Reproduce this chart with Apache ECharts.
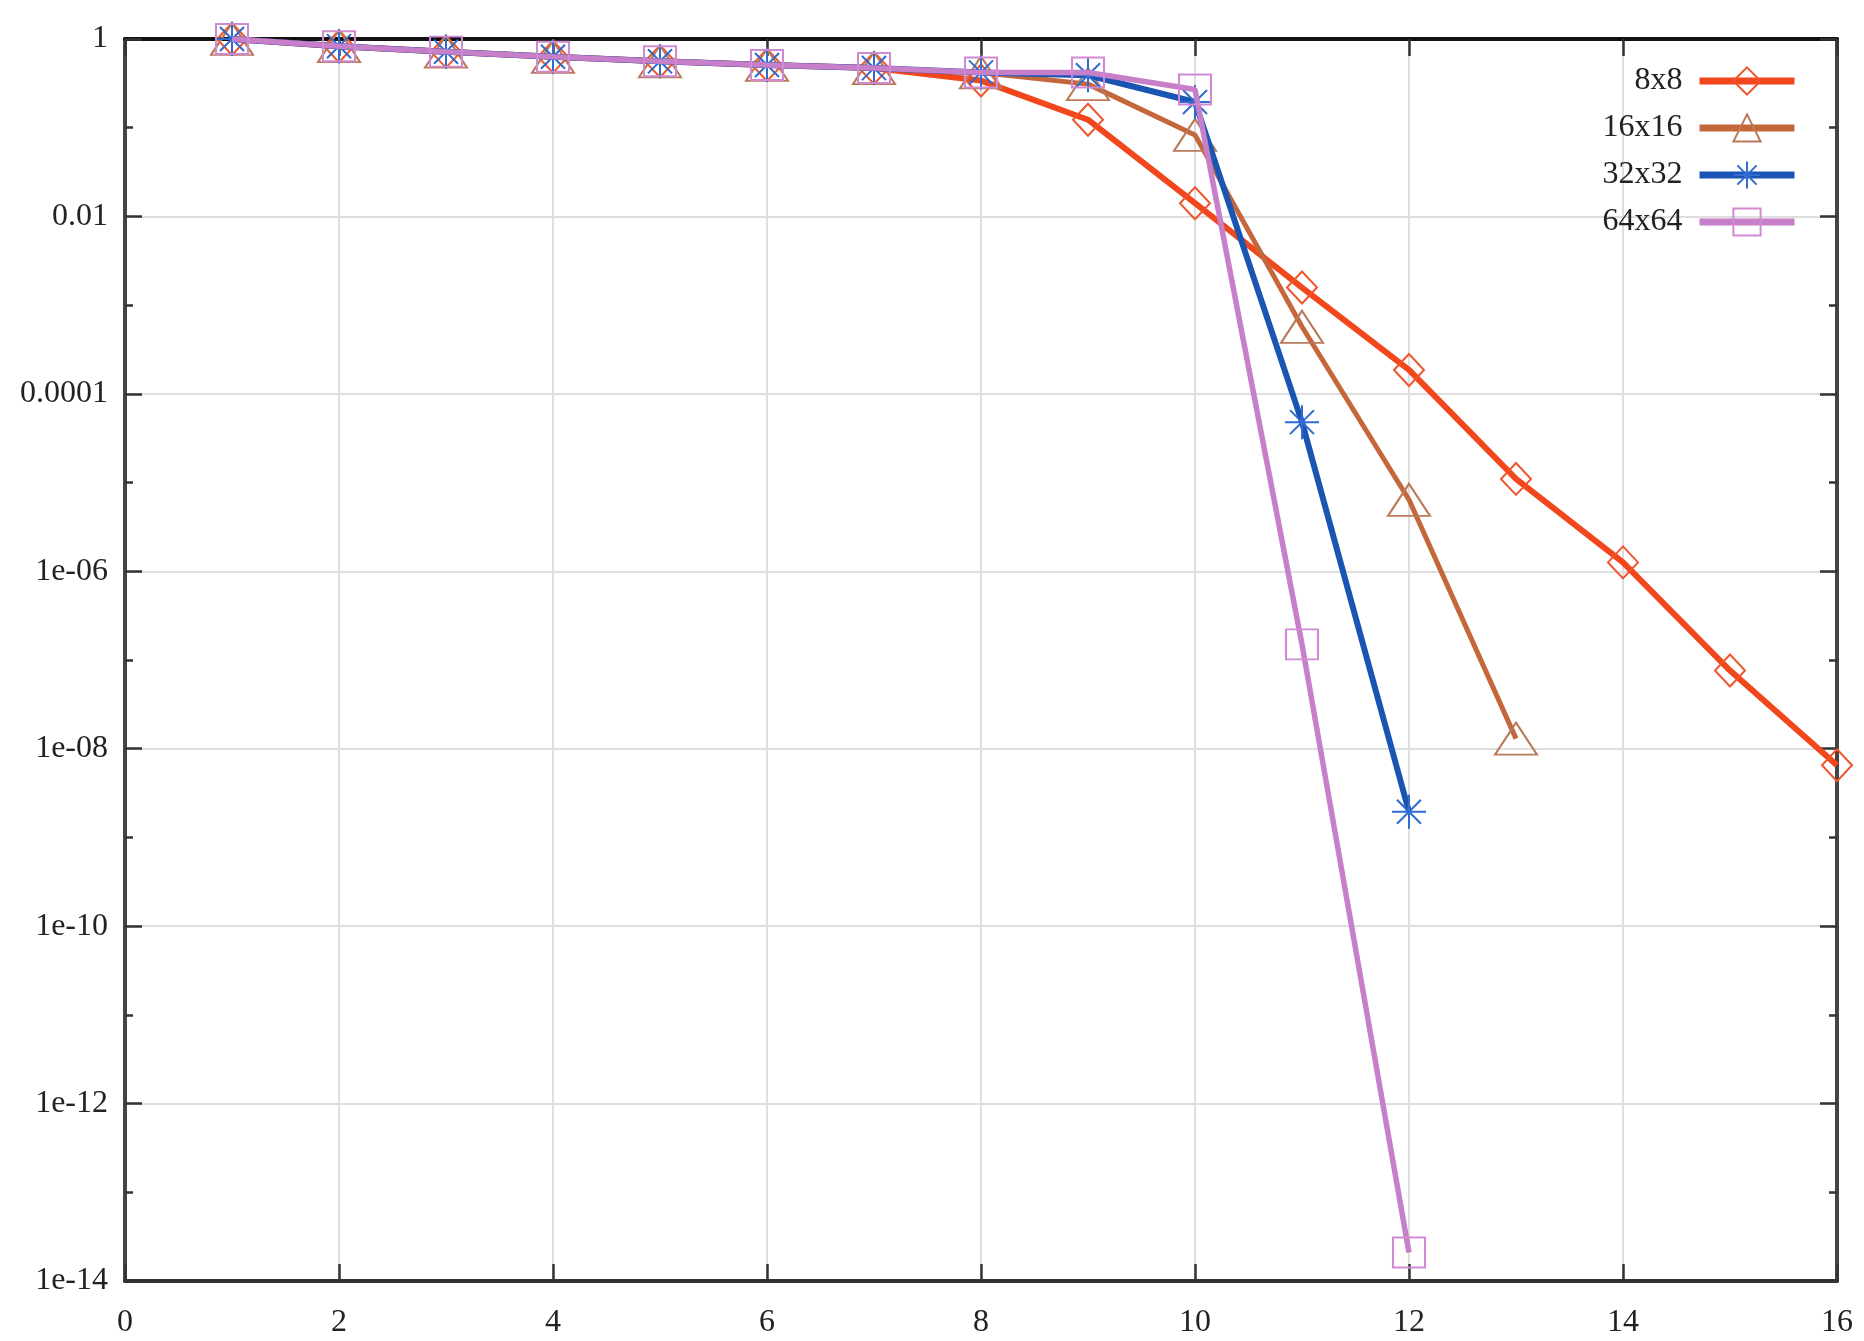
<!DOCTYPE html>
<html>
<head>
<meta charset="utf-8">
<script src="https://cdn.jsdelivr.net/npm/echarts@6/dist/echarts.min.js"></script>
<style>html,body{margin:0;padding:0;background:#fff}#c{width:1864px;height:1341px}</style>
</head>
<body>
<div id="c"></div>
<script>
const seriesNames = ['8x8', '16x16', '32x32', '64x64'];
const xValues = [1, 2, 3, 4, 5, 6, 7, 8, 9, 10, 11, 12, 13, 14, 15, 16];
const s8x8   = [1, 0.83, 0.72, 0.63, 0.56, 0.51, 0.47, 0.34, 0.123, 0.0141, 1.58e-3, 1.86e-4, 1.1e-5, 1.26e-6, 7.6e-8, 6.5e-9];
const s16x16 = [1, 0.83, 0.72, 0.63, 0.56, 0.51, 0.47, 0.42, 0.31, 0.083, 5.7e-4, 6.4e-6, 1.3e-8];
const s32x32 = [1, 0.83, 0.72, 0.63, 0.56, 0.51, 0.47, 0.42, 0.39, 0.195, 4.8e-5, 1.95e-9];
const s64x64 = [1, 0.83, 0.72, 0.63, 0.56, 0.51, 0.47, 0.42, 0.42, 0.27, 1.5e-7, 2.1e-14];
const xTicks = [0, 2, 4, 6, 8, 10, 12, 14, 16];
const yTickLabels = {'0': '1', '-2': '0.01', '-4': '0.0001', '-6': '1e-06', '-8': '1e-08', '-10': '1e-10', '-12': '1e-12', '-14': '1e-14'};

const FONT = 'Liberation Serif';
const pairs = arr => arr.map((v, i) => [xValues[i], v]);
const asterisk = 'path://M10 0L10 20M0 10L20 10M2.93 2.93L17.07 17.07M17.07 2.93L2.93 17.07';

const styles = [
  {line: '#f2461c', mark: '#f0542c', symbol: 'diamond', size: [30, 32], lw: 6},
  {line: '#c4673a', mark: '#b97a5c', symbol: 'triangle', size: [42, 32], lw: 5},
  {line: '#1b55b3', mark: '#2f6bd0', symbol: asterisk, size: [34, 34], lw: 6},
  {line: '#c77fc9', mark: '#d08ad2', symbol: 'rect', size: [32, 30], lw: 5.5}
];
const datasets = [s8x8, s16x16, s32x32, s64x64];

const series = seriesNames.map((name, k) => ({
  name: name,
  type: 'line',
  xAxisIndex: 0,
  yAxisIndex: 0,
  data: pairs(datasets[k]),
  symbol: styles[k].symbol,
  symbolSize: styles[k].size,
  showAllSymbol: true,
  clip: false,
  z: 2 + k,
  lineStyle: {color: styles[k].line, width: styles[k].lw},
  itemStyle: {color: 'rgba(0,0,0,0)', borderColor: styles[k].mark, borderWidth: 2},
  emphasis: {disabled: true}
}));

const tickLabel = v => {
  const e = Math.round(Math.log10(v));
  return yTickLabels[String(e)] !== undefined ? yTickLabels[String(e)] : '';
};

const yBase = {
  type: 'log', logBase: 10, min: 1e-14, max: 1
};

const option = {
  animation: false,
  backgroundColor: '#ffffff',
  grid: {left: 125, right: 27, top: 39, bottom: 60, containLabel: false},
  legend: {
    orient: 'vertical',
    right: 61,
    top: 60,
    align: 'right',
    itemWidth: 95,
    itemHeight: 34,
    itemGap: 15,
    data: seriesNames,
    lineStyle: {width: 7},
    textStyle: {fontFamily: FONT, fontSize: 32, color: '#222', padding: [0, 12, 0, 0]}
  },
  xAxis: [
    {
      type: 'value', position: 'bottom', min: xTicks[0], max: xTicks[xTicks.length - 1], interval: 2,
      axisLine: {show: true, lineStyle: {color: '#333', width: 4}},
      axisTick: {show: true, inside: true, length: 17, lineStyle: {color: '#333', width: 2.5}},
      axisLabel: {show: true, margin: 26, fontFamily: FONT, fontSize: 32, color: '#222'},
      splitLine: {show: true, lineStyle: {color: '#dedede', width: 2}}
    },
    {
      type: 'value', position: 'top', min: xTicks[0], max: xTicks[xTicks.length - 1], interval: 2,
      axisLine: {show: true, lineStyle: {color: '#111', width: 4}},
      axisTick: {show: true, inside: true, length: 17, lineStyle: {color: '#333', width: 2.5}},
      axisLabel: {show: false},
      splitLine: {show: false}
    }
  ],
  yAxis: [
    Object.assign({}, yBase, {
      position: 'left', interval: 2,
      axisLine: {show: true, lineStyle: {color: '#444', width: 4}},
      axisTick: {show: true, inside: true, length: 17, lineStyle: {color: '#333', width: 2.5}},
      axisLabel: {show: true, margin: 17, fontFamily: FONT, fontSize: 32, color: '#222', formatter: tickLabel},
      splitLine: {show: true, lineStyle: {color: '#dedede', width: 2}}
    }),
    Object.assign({}, yBase, {
      position: 'left', interval: 1,
      axisLine: {show: false},
      axisTick: {show: true, inside: true, length: 8, lineStyle: {color: '#333', width: 2.5}},
      axisLabel: {show: false},
      splitLine: {show: false}
    }),
    Object.assign({}, yBase, {
      position: 'right', interval: 2,
      axisLine: {show: true, lineStyle: {color: '#444', width: 4}},
      axisTick: {show: true, inside: true, length: 17, lineStyle: {color: '#333', width: 2.5}},
      axisLabel: {show: false},
      splitLine: {show: false}
    }),
    Object.assign({}, yBase, {
      position: 'right', interval: 1,
      axisLine: {show: false},
      axisTick: {show: true, inside: true, length: 8, lineStyle: {color: '#333', width: 2.5}},
      axisLabel: {show: false},
      splitLine: {show: false}
    })
  ],
  series: series
};

const chart = echarts.init(document.getElementById('c'), null, {renderer: 'canvas'});
chart.setOption(option);
</script>
</body>
</html>
